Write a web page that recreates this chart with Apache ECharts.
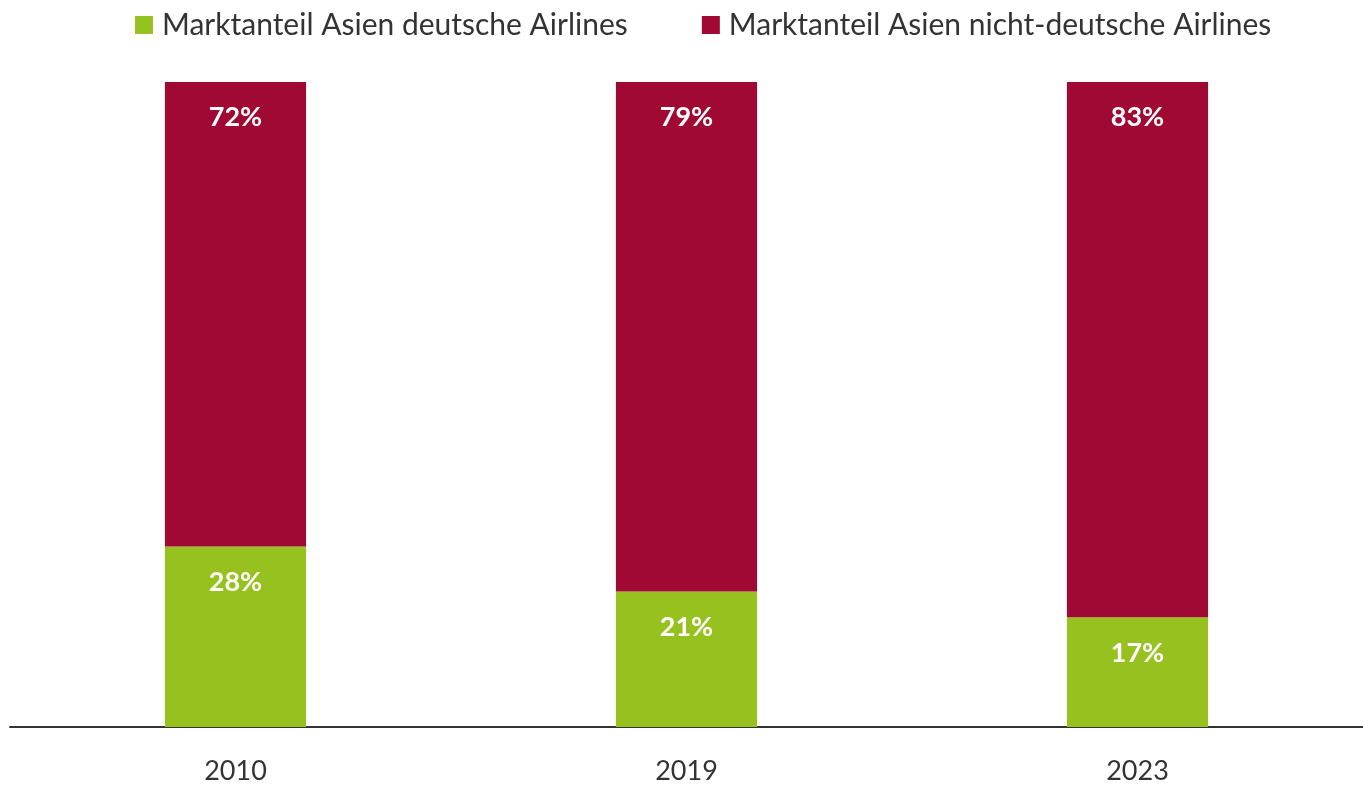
<!DOCTYPE html>
<html><head><meta charset="utf-8">
<script src="https://cdn.jsdelivr.net/npm/echarts@6/dist/echarts.min.js"></script>
<style>html,body{margin:0;padding:0;background:#fff;overflow:hidden}#c{width:1363px;height:785px}</style>
</head><body><div id="c"></div>
<script>
const categories = ['2010', '2019', '2023'];
const deutsche = [28, 21, 17];
const nichtDeutsche = [72, 79, 83];
const seriesNames = ['Marktanteil Asien deutsche Airlines', 'Marktanteil Asien nicht-deutsche Airlines'];
const FONT = 'Lato';
const chart = echarts.init(document.getElementById('c'));
const lbl = {show:true, position:'insideTop', distance:22, color:'#fff', fontWeight:'bold', fontSize:27, fontFamily:FONT, formatter:'{c}%'};
chart.setOption({
  animation:false,
  textStyle:{fontFamily:FONT},
  legend:{top:5, left:130, itemWidth:18, itemHeight:18, itemGap:74, icon:'rect',
    textStyle:{fontSize:30, color:'#333', fontFamily:FONT, padding:[0,0,0,4]}},
  grid:{left:10, width:1363, top:82, bottom:57},
  xAxis:{type:'category', data:categories,
    axisLine:{lineStyle:{color:'#333', width:2}}, axisTick:{show:false},
    axisLabel:{fontSize:27, color:'#333', margin:31, fontFamily:FONT}},
  yAxis:{type:'value', min:0, max:100, show:false, splitLine:{show:false}},
  series:[
    {name:seriesNames[0], type:'bar', stack:'s', data:deutsche, barWidth:'31.3%', itemStyle:{color:'#97C11F'}, label:lbl},
    {name:seriesNames[1], type:'bar', stack:'s', data:nichtDeutsche, barWidth:'31.3%', itemStyle:{color:'#A00933'}, label:lbl}
  ]
});
</script></body></html>
